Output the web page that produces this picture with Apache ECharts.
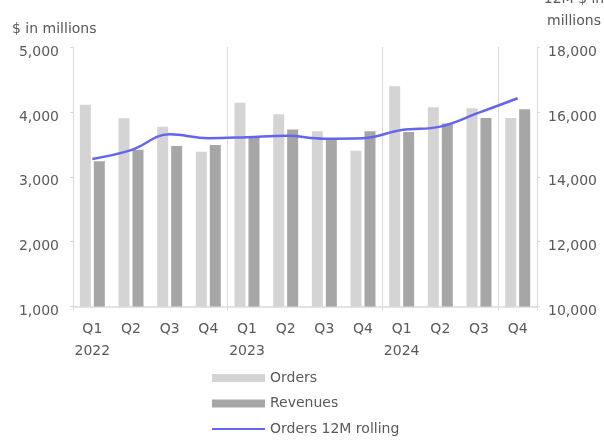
<!DOCTYPE html>
<html>
<head>
<meta charset="utf-8">
<script src="https://cdn.jsdelivr.net/npm/echarts@6/dist/echarts.min.js"></script>
<style>
  html, body { margin: 0; padding: 0; background: #fff; }
  #chart { width: 604px; height: 441px; }
</style>
</head>
<body>
<div id="chart"></div>
<script>
// quarters and years on the x axis
const quarters = ['Q1', 'Q2', 'Q3', 'Q4', 'Q1', 'Q2', 'Q3', 'Q4', 'Q1', 'Q2', 'Q3', 'Q4'];
const years = ['2022', '', '', '', '2023', '', '', '', '2024', '', '', ''];

// $ in millions (left axis)
const orders = [4110, 3900, 3770, 3385, 4140, 3965, 3700, 3400, 4395, 4070, 4055, 3905];
const revenues = [3240, 3415, 3475, 3490, 3615, 3730, 3575, 3700, 3690, 3820, 3905, 4040];

// 12M rolling orders (right axis)
const rolling = [14550, 14820, 15310, 15190, 15220, 15265, 15175, 15190, 15440, 15545, 15975, 16420];

const labels = quarters.map((q, i) => years[i] ? q + '\n' + years[i] : q);

const txt = '#595959';
const font = 'DejaVu Sans';
const axisGray = '#d9d9d9';

let option = {
  animation: false,
  grid: { left: 73, right: 67, top: 47, bottom: 134.5 },
  textStyle: { fontFamily: font },
  graphic: [
    {
      type: 'text', left: 12, top: 22,
      style: { text: '$ in millions', fill: txt, font: '14px "DejaVu Sans"' }
    },
    {
      type: 'text',
      style: {
        x: 574, y: -12, text: '12M $ in\nmillions', fill: txt,
        font: '14px "DejaVu Sans"', align: 'center', verticalAlign: 'top', lineHeight: 22
      }
    }
  ],
  legend: {
    orient: 'vertical',
    left: 211,
    top: 365,
    height: 120,
    padding: 0,
    itemWidth: 53,
    itemHeight: 8,
    itemGap: -0.5,
    textStyle: { color: txt, fontSize: 14, fontFamily: font, lineHeight: 16, padding: [10, 0, 0, 0] },
    data: [
      { name: 'Orders', icon: 'rect' },
      { name: 'Revenues', icon: 'rect' },
      { name: 'Orders 12M rolling', itemStyle: { opacity: 0 } }
    ]
  },
  xAxis: {
    type: 'category',
    data: labels,
    axisLine: { lineStyle: { color: axisGray, width: 1.5 } },
    axisTick: { show: true, interval: 3, length: 4, lineStyle: { color: axisGray } },
    splitLine: { show: true, interval: 3, lineStyle: { color: axisGray, width: 1 } },
    axisLabel: { color: txt, fontSize: 14, fontFamily: font, lineHeight: 22, margin: 12, interval: 0 }
  },
  yAxis: [
    {
      type: 'value', min: 1000, max: 5000, interval: 1000,
      axisLine: { show: true, lineStyle: { color: axisGray } },
      axisTick: { show: true, length: 3, lineStyle: { color: axisGray } },
      splitLine: { show: false },
      axisLabel: {
        color: txt, fontSize: 14, fontFamily: font, margin: 14,
        verticalAlign: 'top', lineHeight: 10,
        formatter: v => v.toLocaleString('en-US')
      }
    },
    {
      type: 'value', min: 10000, max: 18000, interval: 2000,
      axisLine: { show: true, lineStyle: { color: axisGray } },
      axisTick: { show: true, length: 3, lineStyle: { color: axisGray } },
      splitLine: { show: false },
      axisLabel: {
        color: txt, fontSize: 14, fontFamily: font, margin: 11,
        verticalAlign: 'top', lineHeight: 10,
        formatter: v => v.toLocaleString('en-US')
      }
    }
  ],
  series: [
    {
      name: 'Orders', type: 'bar', data: orders,
      barWidth: 11, barGap: '27%',
      itemStyle: { color: '#d4d4d4' }
    },
    {
      name: 'Revenues', type: 'bar', data: revenues,
      barWidth: 11,
      itemStyle: { color: '#a6a6a6' }
    },
    {
      name: 'Orders 12M rolling', type: 'line', yAxisIndex: 1, data: rolling,
      smooth: 0.4, symbol: 'none', z: 5,
      lineStyle: { color: '#6464f0', width: 2.5 },
      itemStyle: { color: '#6464f0' }
    }
  ]
};

const myChart = echarts.init(document.getElementById('chart'));
myChart.setOption(option);
</script>
</body>
</html>
